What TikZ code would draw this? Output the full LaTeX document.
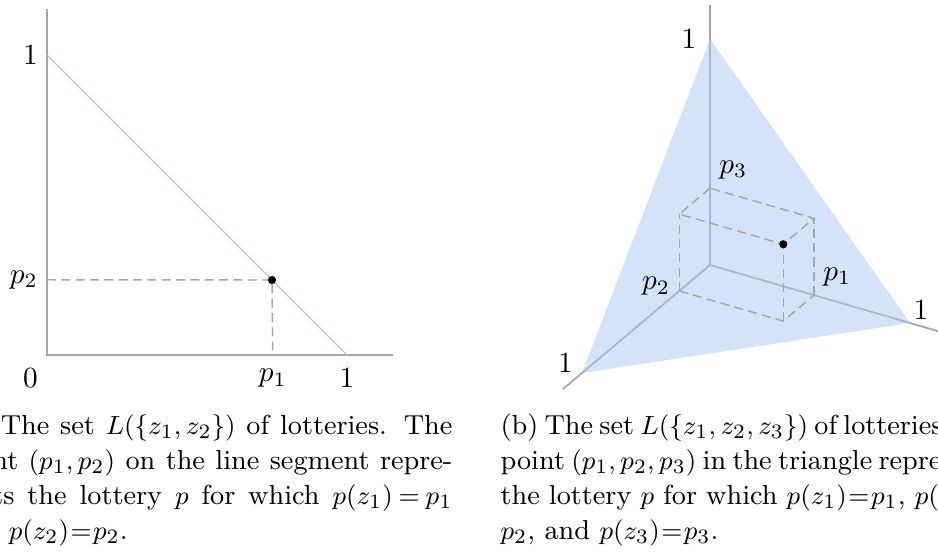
\documentclass[tikz,border=0pt]{standalone}
\usepackage{tikz}
\usetikzlibrary{positioning}

\definecolor{axisgray}{HTML}{A6A6A6}
\definecolor{lotblue}{HTML}{A9C5F5}
\definecolor{dashgray}{HTML}{A8A6A2}

% one justified caption line
\newcommand{\capline}[1]{\hbox to 170.5pt{#1}}

\begin{document}
\begin{tikzpicture}[x=0.342pt, y=0.342pt,
  axis/.style={draw=axisgray, line width=0.6pt},
  guide/.style={draw=dashgray, line width=0.5pt, dash pattern=on 3.1pt off 1.8pt},
  dot/.style={circle, fill=black, inner sep=0pt, minimum size=2.8pt},
  lbl/.style={font=\fontsize{10}{12}\selectfont, inner sep=3pt},
  capt/.style={font={\fontsize{9.4}{12}\selectfont\thickmuskip=1mu plus 4mu}, align=left, inner sep=0pt}]

\clip (0,0) rectangle (938,553);

% (a) two outcomes
\begin{scope}[shift={(47,198)}, scale=301]
  \coordinate (oa) at (0,0);
  \coordinate (topa) at (0,1.155);
  \coordinate (righta) at (1.155,0);
  \coordinate (ea) at (1,0);
  \coordinate (eb) at (0,1);
  \coordinate (qa) at (0.75,0.25);
  \draw[axis] (topa) -- (oa) -- (righta);
  \draw[draw=lotblue, line width=0.45pt] (eb) -- (ea);
  \draw[guide] (0,0.25) -- (qa) -- (0.75,0);
  \node[dot] (pa) at (qa) {};
  \node[lbl, left] (onea) at (eb) {$1$};
  \node[lbl, anchor=north east, yshift=-1.5pt] (zero) at (oa) {$0$};
  \node[lbl, below=1.6pt] (onex) at (ea) {$1$};
  \node[lbl, below=1.6pt] (ponea) at (0.75,0) {$p_1$};
  \node[lbl, left=0pt] (ptwoa) at (0,0.25) {$p_2$};
\end{scope}

% (b) three outcomes
\begin{scope}[shift={(710,288)}, x={(68.40pt,-19.84pt)}, y={(-43.78pt,-36.94pt)}, z={(0pt,77.29pt)}]
  \coordinate (ob) at (0,0,0);
  \coordinate (v1) at (1,0,0);
  \coordinate (v2) at (0,1,0);
  \coordinate (v3) at (0,0,1);
  \draw[axis] (ob) -- (1.15,0,0);
  \draw[axis] (ob) -- (0,1.15,0);
  \draw[axis] (ob) -- (0,0,1.15);
  \fill[lotblue, opacity=0.5] (v1) -- (v2) -- (v3) -- cycle;
  % box
  \coordinate (c1) at (0.52,0,0);
  \coordinate (c2) at (0,0.24,0);
  \coordinate (c3) at (0,0,0.34);
  \coordinate (c12) at (0.52,0.24,0);
  \coordinate (c13) at (0.52,0,0.34);
  \coordinate (c23) at (0,0.24,0.34);
  \coordinate (c123) at (0.52,0.24,0.34);
  \draw[guide] (c2) -- (c12) -- (c1);
  \draw[guide] (c2) -- (c23);
  \draw[guide] (c12) -- (c123);
  \draw[guide] (c1) -- (c13);
  \draw[guide] (c3) -- (c23) -- (c123) -- (c13) -- cycle;
  \node[dot] (pb) at (c123) {};
  \node[lbl, left=1.5pt] (oneb3) at (v3) {$1$};
  \node[lbl, anchor=south west, inner sep=1pt] (oneb1) at (v1) {$1$};
  \node[lbl, anchor=south east, inner sep=1pt, xshift=-2pt, yshift=-1pt] (oneb2) at (v2) {$1$};
  \node[lbl, above right=0pt] (pthreeb) at (c3) {$p_3$};
  \node[lbl, left=0pt, yshift=1.5pt] (ptwob) at (c2) {$p_2$};
  \node[lbl, above right=0pt] (poneb) at (c1) {$p_1$};
\end{scope}

% captions
\node[capt, anchor=north east] (capa) at (453,140)
  {\capline{(a) The set $L(\{z_1,z_2\})$ of lotteries. The}\\
   \capline{point $(p_1,p_2)$ on the line segment repre-}\\
   \capline{sents the lottery $p$ for which $p(z_1)=p_1$}\\
   \hbox{and $p(z_2)=p_2$.}};
\node[capt, anchor=north west] (capb) at (500,140)
  {\capline{(b) The set $L(\{z_1,z_2,z_3\})$ of lotteries. The}\\
   \capline{point $(p_1,p_2,p_3)$ in the triangle represents}\\
   \capline{the lottery $p$ for which $p(z_1)=p_1$, $p(z_2)={}$}\\
   \hbox{$p_2$, and $p(z_3)=p_3$.}};

\end{tikzpicture}
\end{document}
